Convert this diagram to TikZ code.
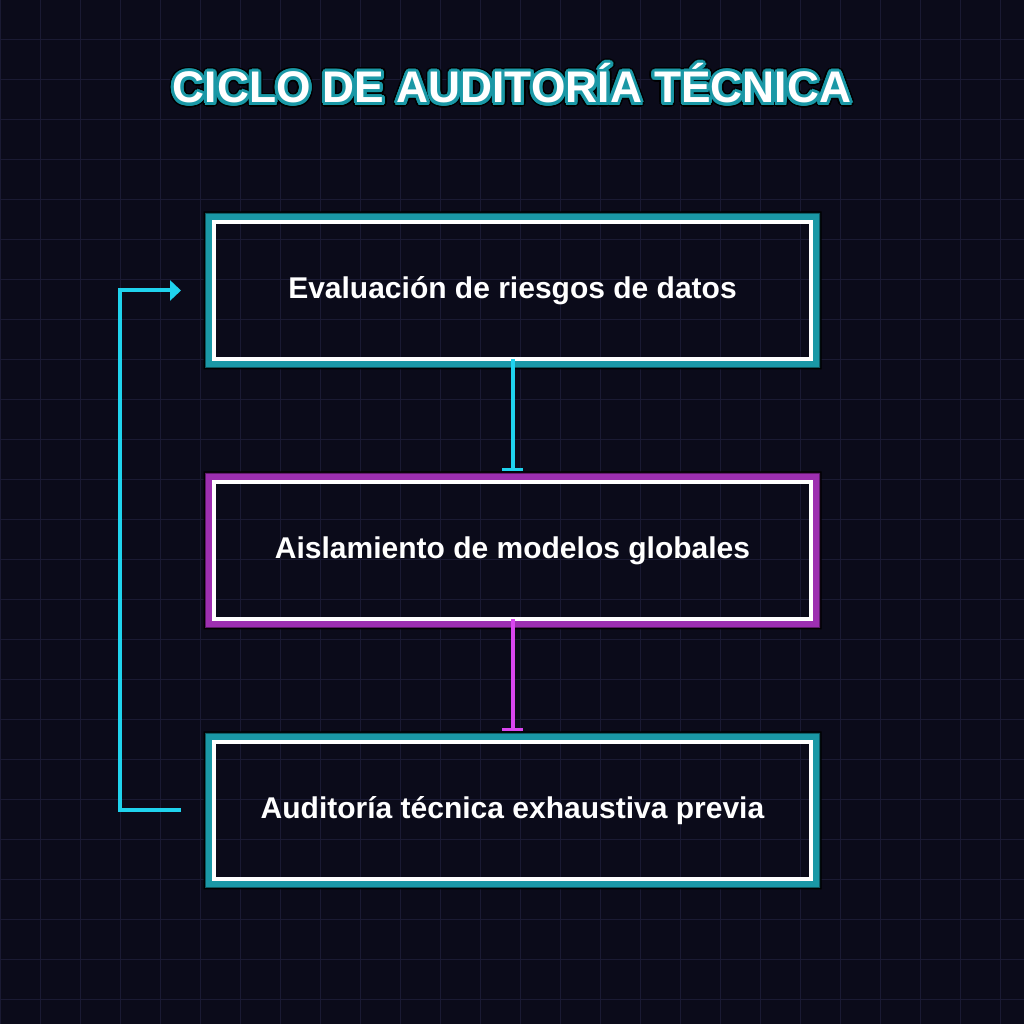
\documentclass[tikz,border=0pt]{standalone}
\usepackage{fontspec}
\setmainfont{Liberation Sans}
\usepackage{tikz}
\usetikzlibrary{arrows.meta,backgrounds,positioning}
\definecolor{bg}{HTML}{0B0B1A}
\definecolor{gridc}{HTML}{1A1A33}
\definecolor{cyanline}{HTML}{1FD3EE}
\definecolor{magline}{HTML}{D946EF}
\definecolor{cyanglow}{HTML}{1A98A6}
\definecolor{cyandark}{HTML}{0E5660}
\definecolor{magglow}{HTML}{9D2FB0}
\definecolor{magdark}{HTML}{5B1A68}

\tikzset{
  stagebox/.style={draw=white,line width=4pt,outer sep=0pt,minimum width=597pt,minimum height=137pt,
    text=white,font=\fontsize{30}{34}\selectfont\bfseries},
  titletext/.style={anchor=base,font=\fontsize{44.3}{50}\selectfont\bfseries},
  flowline/.style={line width=4pt,-{Bar[width=21pt,line width=2.5pt]}},
  loopline/.style={line width=4pt,cyanline,-{Triangle[length=11pt,width=20pt]}}
}

\begin{document}
\begin{tikzpicture}[x=1pt,y=1pt]
  \useasboundingbox (0,0) rectangle (1024,1024);
  % boxes
  \node[stagebox] (evaluacion) at (512.5,733.5) {Evaluación de riesgos de datos};
  \node[stagebox] (aislamiento) at (512.5,473.5) {Aislamiento de modelos globales};
  \node[stagebox] (auditoria) at (512.5,213.5) {Auditoría técnica exhaustiva previa};
  \begin{scope}[on background layer]
    \fill[bg] (0,0) rectangle (1024,1024);
    \draw[gridc,line width=1pt,shift={(0,24pt)}] (0,-24) grid[step=40] (1024,1000);
    \foreach \n/\c in {evaluacion/cyan,aislamiento/mag,auditoria/cyan} {
      \fill[black,even odd rule] ([shift={(-10.5pt,-10.5pt)}]\n.south west) rectangle ([shift={(10.5pt,10.5pt)}]\n.north east)
        (\n.south west) rectangle (\n.north east);
      \fill[\c dark,even odd rule] ([shift={(-9pt,-9pt)}]\n.south west) rectangle ([shift={(9pt,9pt)}]\n.north east)
        (\n.south west) rectangle (\n.north east);
      \fill[\c glow,even odd rule] ([shift={(-8pt,-8pt)}]\n.south west) rectangle ([shift={(8pt,8pt)}]\n.north east)
        (\n.south west) rectangle (\n.north east);
    }
  \end{scope}
  % title with glow
  \coordinate (tpos) at (512,921);
  \foreach \a in {0,15,...,345}
    \node[titletext,text=black] at ([shift={(\a:4.5pt)}]tpos) {CICLO DE AUDITORÍA TÉCNICA};
  \foreach \a in {0,15,...,345}
    \node[titletext,text=cyanglow] at ([shift={(\a:3pt)}]tpos) {CICLO DE AUDITORÍA TÉCNICA};
  \node[titletext,text=white] (title) at (tpos) {CICLO DE AUDITORÍA TÉCNICA};
  % connectors
  \draw[flowline,cyanline] (evaluacion.south) -- ([yshift=11pt]aislamiento.north);
  \draw[flowline,magline] (aislamiento.south) -- ([yshift=11pt]auditoria.north);
  \draw[loopline] ([xshift=-33pt]auditoria.west) -- ++(-61,0) |- ([xshift=-33pt]evaluacion.west);
\end{tikzpicture}
\end{document}
